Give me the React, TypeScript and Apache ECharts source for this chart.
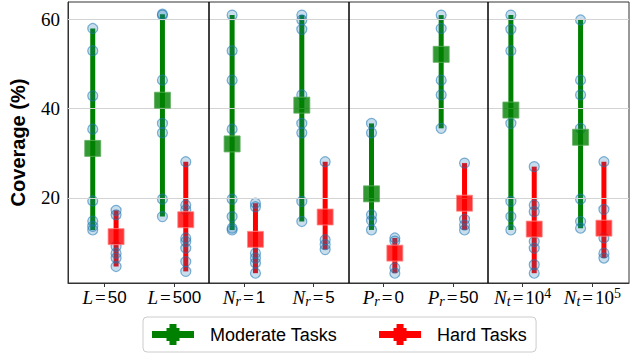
import React, { useEffect, useRef } from "react";
import * as echarts from "echarts";

// ---- Data ----
const categories = ["L=50", "L=500", "N_r=1", "N_r=5", "P_r=0", "P_r=50", "N_t=10^4", "N_t=10^5"];

const moderatePoints: number[][] = [
  [58.0, 53.0, 42.9, 35.4, 19.3, 14.8, 13.6, 12.8],
  [61.2, 61.0, 46.4, 36.7, 34.6, 19.7, 15.8],
  [61.0, 53.0, 46.4, 35.4, 19.7, 15.8, 13.2, 12.8],
  [61.0, 59.9, 57.8, 43.1, 36.7, 34.6, 19.2, 14.7],
  [36.7, 34.6, 16.2, 14.9, 12.8],
  [61.0, 58.0, 46.4, 43.1, 35.6],
  [61.0, 57.8, 53.0, 36.7, 19.2, 15.8, 12.8],
  [59.9, 46.4, 43.1, 35.6, 19.7, 14.7, 13.2],
];
const moderateMeans = [31.1, 41.9, 32.1, 40.8, 20.9, 52.2, 39.7, 33.6];

const hardPoints: number[][] = [
  [17.2, 16.2, 9.1, 7.6, 6.5, 4.6],
  [28.1, 18.4, 17.3, 11.0, 10.2, 8.7, 5.7, 3.5],
  [18.8, 18.0, 7.6, 6.5, 5.4, 3.1],
  [28.1, 10.6, 9.5, 8.4],
  [11.0, 10.3, 4.3, 3.1],
  [27.8, 15.2, 13.9, 12.8],
  [27.0, 18.4, 16.9, 10.2, 8.7, 5.0, 3.1],
  [28.1, 17.4, 11.0, 7.6, 6.5],
];
const hardMeans = [11.3, 15.1, 10.7, 15.7, 7.6, 18.8, 13.0, 13.2];

const yTicks = [20, 40, 60];
const groupSeparators = [1.5, 3.5, 5.5];

// ---- Style constants ----
const GREEN = "#008000";
const RED = "#ff0000";
const OFFSET_MOD = -0.17;
const OFFSET_HARD = 0.165;
const SANS = "'Liberation Sans', Arial, sans-serif";
const SERIF = "'Liberation Serif', 'Times New Roman', serif";
const CROSS_ICON =
  "path://M0,7H42V14H0Z M17.5,0H24.5V21H17.5Z M14.5,4H27.5V17H14.5Z";

function richLabel(label: string): string {
  const m = label.match(/^([A-Za-z])(?:_([a-z]))?=(.*)$/);
  if (!m) return label;
  const [, v, sub, val] = m;
  let s = `{i|${v}}`;
  if (sub) s += `{sub|${sub}}`;
  s += `{eq|=}`;
  if (val.includes("^")) {
    const [b, e] = val.split("^");
    s += `{rm|${b}}{sup|${e}}`;
  } else {
    s += `{n|${val}}`;
  }
  return s;
}

function barData(points: number[][], off: number) {
  return points.map((p, i) => [i + off, Math.min(...p), Math.max(...p)]);
}
function pointData(points: number[][], off: number) {
  const out: number[][] = [];
  points.forEach((p, i) => p.forEach((v) => out.push([i + off, v])));
  return out;
}
function meanData(means: number[], off: number) {
  return means.map((m, i) => [i + off, m]);
}

function makeBarSeries(name: string, data: number[][], color: string) {
  return {
    name,
    type: "custom",
    z: 3,
    data,
    encode: { x: 0, y: [1, 2] },
    itemStyle: { color },
    renderItem: (params: any, api: any) => {
      const x = api.value(0);
      const top = api.coord([x, api.value(2)]);
      const bot = api.coord([x, api.value(1)]);
      return {
        type: "line",
        shape: { x1: top[0], y1: top[1], x2: bot[0], y2: bot[1] },
        style: { stroke: color, lineWidth: 5, lineCap: "butt" },
      };
    },
  };
}

const pointStyle = {
  color: "rgba(31,119,180,0.3)",
  borderColor: "rgba(31,119,180,0.7)",
  borderWidth: 1.2,
};

export default function App() {
  const ref = useRef<HTMLDivElement>(null);
  useEffect(() => {
    if (!ref.current) return;
    const chart = echarts.init(ref.current, null, { renderer: "svg" });
    const idx = categories.map((_, i) => i);
    const option: any = {
      animation: false,
      backgroundColor: "#ffffff",
      grid: {
        left: 52,
        right: 3,
        top: 2,
        bottom: 73,
        show: true,
        borderColor: "#333",
        borderWidth: 1,
        backgroundColor: "transparent",
      },
      legend: {
        top: 317,
        left: 143,
        orient: "horizontal",
        itemWidth: 42,
        itemHeight: 21,
        itemGap: 42,
        padding: [7, 9, 7, 9],
        borderColor: "#cccccc",
        borderWidth: 1,
        borderRadius: 4,
        selectedMode: false,
        textStyle: { fontFamily: SANS, fontSize: 18, color: "#000", padding: [0, 0, 0, 11] },
        data: [
          { name: "Moderate Tasks", icon: CROSS_ICON, itemStyle: { color: GREEN } },
          { name: "Hard Tasks", icon: CROSS_ICON, itemStyle: { color: RED } },
        ],
      },
      xAxis: {
        type: "value",
        min: -0.525,
        max: 7.525,
        splitLine: { show: false },
        axisLine: { show: true, onZero: false, lineStyle: { color: "#333", width: 1 } },
        axisTick: { show: true, customValues: idx, length: 4, lineStyle: { color: "#333" } },
        axisLabel: {
          customValues: idx,
          margin: 3,
          color: "#000",
          formatter: (v: number) => richLabel(categories[Math.round(v)]),
          rich: {
            i: { fontFamily: SERIF, fontStyle: "italic", fontSize: 19, lineHeight: 22, color: "#000" },
            sub: { fontFamily: SERIF, fontStyle: "italic", fontSize: 14, lineHeight: 10, verticalAlign: "bottom", color: "#000" },
            eq: { fontFamily: SERIF, fontSize: 19, lineHeight: 22, padding: [0, 2, 0, 2], color: "#000" },
            n: { fontFamily: SANS, fontSize: 17, lineHeight: 22, color: "#000" },
            rm: { fontFamily: SERIF, fontSize: 19, lineHeight: 22, color: "#000" },
            sup: { fontFamily: SERIF, fontSize: 14, lineHeight: 13, verticalAlign: "top", color: "#000" },
          },
        },
      },
      yAxis: {
        type: "value",
        min: 0.9,
        max: 63.94,
        name: "Coverage (%)",
        nameLocation: "middle",
        nameGap: 40,
        nameTextStyle: { fontFamily: SANS, fontWeight: "bold", fontSize: 20, color: "#000" },
        splitLine: { show: false },
        axisLine: { show: true, onZero: false, lineStyle: { color: "#333", width: 1 } },
        axisTick: { show: false },
        axisLabel: {
          customValues: yTicks,
          color: "#000",
          margin: 8,
          formatter: (v: number) => `{s|${v}}`,
          rich: {
            s: { fontFamily: SERIF, fontSize: 19, color: "#000" },
          },
        },
      },
      series: [
        {
          name: "grid-lines",
          type: "line",
          data: [],
          z: 1,
          silent: true,
          markLine: {
            silent: true,
            symbol: ["none", "none"],
            label: { show: false },
            lineStyle: { type: "solid", color: "#d3d3d3", width: 1 },
            data: yTicks.map((t) => ({ yAxis: t })),
          },
        },
        {
          name: "separators",
          type: "line",
          data: [],
          z: 2,
          silent: true,
          markLine: {
            silent: true,
            symbol: ["none", "none"],
            label: { show: false },
            lineStyle: { type: "solid", color: "#000", width: 1.5 },
            data: groupSeparators.map((s) => ({ xAxis: s })),
          },
        },
        makeBarSeries("Moderate Tasks", barData(moderatePoints, OFFSET_MOD), GREEN),
        makeBarSeries("Hard Tasks", barData(hardPoints, OFFSET_HARD), RED),
        {
          name: "Moderate runs",
          type: "scatter",
          z: 4,
          symbol: "circle",
          symbolSize: 10,
          data: pointData(moderatePoints, OFFSET_MOD),
          itemStyle: pointStyle,
        },
        {
          name: "Hard runs",
          type: "scatter",
          z: 4,
          symbol: "circle",
          symbolSize: 10,
          data: pointData(hardPoints, OFFSET_HARD),
          itemStyle: pointStyle,
        },
        {
          name: "Moderate mean",
          type: "scatter",
          z: 5,
          symbol: "rect",
          symbolSize: 16,
          data: meanData(moderateMeans, OFFSET_MOD),
          itemStyle: { color: GREEN, borderColor: "#5fae5f", borderWidth: 1 },
        },
        {
          name: "Hard mean",
          type: "scatter",
          z: 5,
          symbol: "rect",
          symbolSize: 16,
          data: meanData(hardMeans, OFFSET_HARD),
          itemStyle: { color: RED, borderColor: "#ff8a8a", borderWidth: 1 },
        },
      ],
    };
    chart.setOption(option);
    return () => chart.dispose();
  }, []);
  return (
    <div
      ref={ref}
      style={{ position: "fixed", left: 0, top: 0, width: 632, height: 356, background: "#fff" }}
    />
  );
}
